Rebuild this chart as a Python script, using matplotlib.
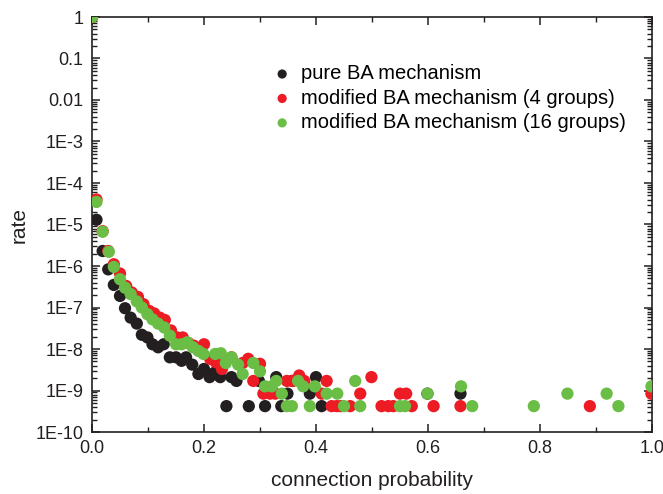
import numpy as np
import matplotlib
matplotlib.use("Agg")
import matplotlib.pyplot as plt
from matplotlib.ticker import FixedLocator, FixedFormatter, LogLocator, MultipleLocator, NullFormatter

# connection probability vs rate, three mechanisms
pure_x = [0.0, 0.008, 0.019, 0.029, 0.039, 0.050, 0.059, 0.069, 0.080, 0.089,
          0.099, 0.108, 0.118, 0.128, 0.139, 0.150, 0.160, 0.168, 0.179, 0.190,
          0.200, 0.210, 0.219, 0.229, 0.240, 0.249, 0.258, 0.280, 0.298, 0.309,
          0.329, 0.338, 0.349, 0.358, 0.389, 0.400, 0.410, 0.599, 0.658]
pure_y = [1.0, 1.3e-5, 2.3e-6, 8.3e-7, 3.5e-7, 1.9e-7, 9.6e-8, 5.7e-8, 4.1e-8, 2.2e-8,
          1.9e-8, 1.3e-8, 1.1e-8, 1.3e-8, 6.3e-9, 6.3e-9, 5.2e-9, 6.3e-9, 4.2e-9, 2.5e-9,
          3.3e-9, 2.1e-9, 2.7e-9, 2.1e-9, 4.2e-10, 2.1e-9, 1.7e-9, 4.2e-10, 1.7e-9, 4.2e-10,
          2.1e-9, 4.2e-10, 8.4e-10, 1.7e-9, 8.4e-10, 2.1e-9, 4.2e-10, 8.4e-10, 8.4e-10]

mod4_x = [0.0, 0.008, 0.019, 0.029, 0.039, 0.050, 0.061, 0.071, 0.082, 0.092,
          0.102, 0.111, 0.121, 0.130, 0.141, 0.152, 0.162, 0.172, 0.182, 0.192,
          0.200, 0.211, 0.221, 0.232, 0.249, 0.269, 0.279, 0.288, 0.300, 0.306,
          0.318, 0.327, 0.348, 0.358, 0.370, 0.379, 0.410, 0.419, 0.428, 0.437,
          0.444, 0.461, 0.479, 0.499, 0.517, 0.529, 0.538, 0.550, 0.561, 0.571,
          0.610, 0.658, 0.889, 0.999]
mod4_y = [1.0, 4.0e-5, 6.9e-6, 2.3e-6, 1.1e-6, 6.6e-7, 3.3e-7, 2.3e-7, 1.8e-7, 1.2e-7,
          8.3e-8, 7.2e-8, 5.7e-8, 5.0e-8, 2.8e-8, 1.9e-8, 1.9e-8, 1.4e-8, 1.2e-8, 1.0e-8,
          1.3e-8, 5.8e-9, 4.8e-9, 3.3e-9, 6.3e-9, 4.6e-9, 5.8e-9, 1.7e-9, 4.4e-9, 8.4e-10,
          8.4e-10, 8.4e-10, 1.7e-9, 1.7e-9, 2.3e-9, 1.7e-9, 8.4e-10, 1.7e-9, 4.2e-10, 4.2e-10,
          4.2e-10, 4.2e-10, 8.4e-10, 2.1e-9, 4.2e-10, 4.2e-10, 4.2e-10, 8.4e-10, 8.4e-10, 4.2e-10,
          4.2e-10, 4.2e-10, 4.2e-10, 8.4e-10]

mod16_x = [0.0, 0.008, 0.019, 0.030, 0.039, 0.050, 0.059, 0.069, 0.080, 0.089,
           0.099, 0.108, 0.118, 0.129, 0.139, 0.150, 0.160, 0.170, 0.180, 0.190,
           0.199, 0.220, 0.230, 0.239, 0.249, 0.261, 0.269, 0.288, 0.300, 0.309,
           0.321, 0.329, 0.339, 0.348, 0.357, 0.368, 0.377, 0.389, 0.398, 0.419,
           0.438, 0.450, 0.470, 0.479, 0.550, 0.559, 0.599, 0.659, 0.679, 0.789,
           0.849, 0.919, 0.940, 0.999]
mod16_y = [1.0, 3.5e-5, 6.7e-6, 2.2e-6, 9.5e-7, 4.8e-7, 3.0e-7, 2.1e-7, 1.4e-7, 1.0e-7,
           6.9e-8, 5.2e-8, 4.1e-8, 3.3e-8, 2.1e-8, 1.3e-8, 1.3e-8, 1.45e-8, 1.1e-8, 9.0e-9,
           7.6e-9, 7.6e-9, 7.9e-9, 4.6e-9, 6.3e-9, 4.2e-9, 2.5e-9, 4.6e-9, 2.9e-9, 1.26e-9,
           1.26e-9, 1.7e-9, 8.4e-10, 4.2e-10, 4.2e-10, 1.7e-9, 1.26e-9, 4.2e-10, 1.26e-9, 8.4e-10,
           8.4e-10, 4.2e-10, 1.7e-9, 4.2e-10, 4.2e-10, 4.2e-10, 8.4e-10, 1.26e-9, 4.2e-10, 4.2e-10,
           8.4e-10, 8.4e-10, 4.2e-10, 1.26e-9]

series_labels = ["pure BA mechanism",
                 "modified BA mechanism (4 groups)",
                 "modified BA mechanism (16 groups)"]
series_colors = ["#231f20", "#ed1c24", "#6abd45"]

y_tick_values = [1, 0.1, 0.01, 1e-3, 1e-4, 1e-5, 1e-6, 1e-7, 1e-8, 1e-9, 1e-10]
y_tick_labels = ["1", "0.1", "0.01", "1E-3", "1E-4", "1E-5", "1E-6",
                 "1E-7", "1E-8", "1E-9", "1E-10"]

plt.rcParams["font.family"] = ["Liberation Sans", "DejaVu Sans"]

fig = plt.figure(figsize=(6.63, 4.94), dpi=100)
ax = fig.add_axes([92 / 663, 1 - 432 / 494, 560 / 663, 415 / 494])

data = [(pure_x, pure_y), (mod4_x, mod4_y), (mod16_x, mod16_y)]
for (xs, ys), lab, col in zip(data, series_labels, series_colors):
    ax.scatter(xs, ys, s=78, c=col, edgecolors="none", label=lab, zorder=3)

ax.set_yscale("log")
ax.set_xlim(0, 1.0)
ax.set_ylim(1e-10, 1)

ax.yaxis.set_major_locator(FixedLocator(y_tick_values))
ax.yaxis.set_major_formatter(FixedFormatter(y_tick_labels))
ax.yaxis.set_minor_locator(LogLocator(base=10, subs=np.arange(2, 10), numticks=20))
ax.yaxis.set_minor_formatter(NullFormatter())
ax.xaxis.set_major_locator(MultipleLocator(0.2))
ax.xaxis.set_minor_locator(MultipleLocator(0.1))
ax.xaxis.set_major_formatter(plt.FuncFormatter(lambda v, p: f"{v:.1f}"))

ax.tick_params(which="both", direction="in", top=True, right=True,
               labelsize=13, color="#231f20", labelcolor="#231f20")
ax.tick_params(which="major", length=6, width=1.1, pad=6)
ax.tick_params(which="minor", length=3.5, width=1.0)
for sp in ax.spines.values():
    sp.set_linewidth(1.2)
    sp.set_color("#231f20")

ax.set_xlabel("connection probability", fontsize=15, color="#231f20", labelpad=10)
ax.set_ylabel("rate", fontsize=15, color="#231f20", labelpad=5)

ax.legend(loc="upper left", bbox_to_anchor=(0.3, 0.92), frameon=False,
          fontsize=14.5, markerscale=0.75, handlelength=0.8,
          handletextpad=0.55, labelspacing=0.27, borderpad=0.2)

fig.savefig("out.png", dpi=100)
